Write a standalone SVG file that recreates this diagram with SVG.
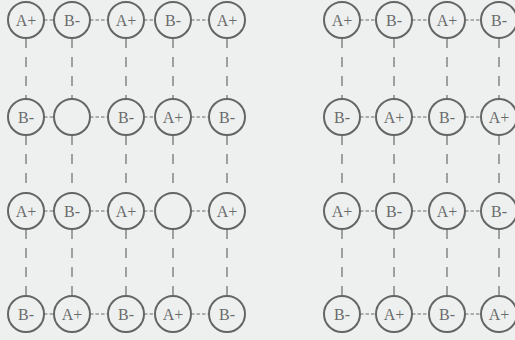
<svg xmlns="http://www.w3.org/2000/svg" width="515" height="340" viewBox="0 0 515 340">
<style>
.bg{fill:#eef0f0}
.n circle{fill:none;stroke:#646666;stroke-width:2}
.n text{font-family:"Liberation Serif",serif;font-size:16px;fill:#6a6c6c;text-anchor:middle;dominant-baseline:central}
.v{stroke:#6a6c6c;stroke-width:1.2;stroke-dasharray:10,9;fill:none}
.h{stroke:#6a6c6c;stroke-width:1.2;stroke-dasharray:3.5,2;fill:none}
</style>
<rect class="bg" width="515" height="340"/>
<g id="connectors">
<path class="v" d="M26 38V99M26 135V193M26 229V296"/>
<path class="v" d="M72 38V99M72 135V193M72 229V296"/>
<path class="v" d="M126 38V99M126 135V193M126 229V296"/>
<path class="v" d="M173 38V99M173 135V193M173 229V296"/>
<path class="v" d="M227 38V99M227 135V193M227 229V296"/>
<path class="v" d="M342 38V99M342 135V193M342 229V296"/>
<path class="v" d="M394 38V99M394 135V193M394 229V296"/>
<path class="v" d="M447 38V99M447 135V193M447 229V296"/>
<path class="v" d="M499 38V99M499 135V193M499 229V296"/>
<path class="h" d="M44 20H54M90 20H108M144 20H155M191 20H209"/>
<path class="h" d="M44 117H54M90 117H108M144 117H155M191 117H209"/>
<path class="h" d="M44 211H54M90 211H108M144 211H155M191 211H209"/>
<path class="h" d="M44 314H54M90 314H108M144 314H155M191 314H209"/>
<path class="h" d="M360 20H376M412 20H429M465 20H481"/>
<path class="h" d="M360 117H376M412 117H429M465 117H481"/>
<path class="h" d="M360 211H376M412 211H429M465 211H481"/>
<path class="h" d="M360 314H376M412 314H429M465 314H481"/>
</g>
<g id="L11" class="n"><circle cx="26" cy="20" r="18"/><text x="26" y="20">A+</text></g>
<g id="L12" class="n"><circle cx="72" cy="20" r="18"/><text x="72" y="20">B-</text></g>
<g id="L13" class="n"><circle cx="126" cy="20" r="18"/><text x="126" y="20">A+</text></g>
<g id="L14" class="n"><circle cx="173" cy="20" r="18"/><text x="173" y="20">B-</text></g>
<g id="L15" class="n"><circle cx="227" cy="20" r="18"/><text x="227" y="20">A+</text></g>
<g id="L21" class="n"><circle cx="26" cy="117" r="18"/><text x="26" y="117">B-</text></g>
<g id="L22" class="n"><circle cx="72" cy="117" r="18"/></g>
<g id="L23" class="n"><circle cx="126" cy="117" r="18"/><text x="126" y="117">B-</text></g>
<g id="L24" class="n"><circle cx="173" cy="117" r="18"/><text x="173" y="117">A+</text></g>
<g id="L25" class="n"><circle cx="227" cy="117" r="18"/><text x="227" y="117">B-</text></g>
<g id="L31" class="n"><circle cx="26" cy="211" r="18"/><text x="26" y="211">A+</text></g>
<g id="L32" class="n"><circle cx="72" cy="211" r="18"/><text x="72" y="211">B-</text></g>
<g id="L33" class="n"><circle cx="126" cy="211" r="18"/><text x="126" y="211">A+</text></g>
<g id="L34" class="n"><circle cx="173" cy="211" r="18"/></g>
<g id="L35" class="n"><circle cx="227" cy="211" r="18"/><text x="227" y="211">A+</text></g>
<g id="L41" class="n"><circle cx="26" cy="314" r="18"/><text x="26" y="314">B-</text></g>
<g id="L42" class="n"><circle cx="72" cy="314" r="18"/><text x="72" y="314">A+</text></g>
<g id="L43" class="n"><circle cx="126" cy="314" r="18"/><text x="126" y="314">B-</text></g>
<g id="L44" class="n"><circle cx="173" cy="314" r="18"/><text x="173" y="314">A+</text></g>
<g id="L45" class="n"><circle cx="227" cy="314" r="18"/><text x="227" y="314">B-</text></g>
<g id="R11" class="n"><circle cx="342" cy="20" r="18"/><text x="342" y="20">A+</text></g>
<g id="R12" class="n"><circle cx="394" cy="20" r="18"/><text x="394" y="20">B-</text></g>
<g id="R13" class="n"><circle cx="447" cy="20" r="18"/><text x="447" y="20">A+</text></g>
<g id="R14" class="n"><circle cx="499" cy="20" r="18"/><text x="499" y="20">B-</text></g>
<g id="R21" class="n"><circle cx="342" cy="117" r="18"/><text x="342" y="117">B-</text></g>
<g id="R22" class="n"><circle cx="394" cy="117" r="18"/><text x="394" y="117">A+</text></g>
<g id="R23" class="n"><circle cx="447" cy="117" r="18"/><text x="447" y="117">B-</text></g>
<g id="R24" class="n"><circle cx="499" cy="117" r="18"/><text x="499" y="117">A+</text></g>
<g id="R31" class="n"><circle cx="342" cy="211" r="18"/><text x="342" y="211">A+</text></g>
<g id="R32" class="n"><circle cx="394" cy="211" r="18"/><text x="394" y="211">B-</text></g>
<g id="R33" class="n"><circle cx="447" cy="211" r="18"/><text x="447" y="211">A+</text></g>
<g id="R34" class="n"><circle cx="499" cy="211" r="18"/><text x="499" y="211">B-</text></g>
<g id="R41" class="n"><circle cx="342" cy="314" r="18"/><text x="342" y="314">B-</text></g>
<g id="R42" class="n"><circle cx="394" cy="314" r="18"/><text x="394" y="314">A+</text></g>
<g id="R43" class="n"><circle cx="447" cy="314" r="18"/><text x="447" y="314">B-</text></g>
<g id="R44" class="n"><circle cx="499" cy="314" r="18"/><text x="499" y="314">A+</text></g>
</svg>
